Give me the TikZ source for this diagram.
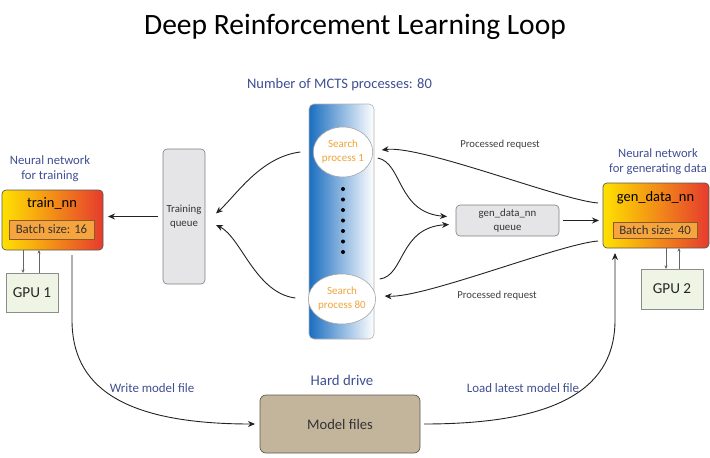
\documentclass[tikz,border=0pt]{standalone}
\usepackage{fontspec}
\setmainfont{Carlito}
\usetikzlibrary{arrows.meta,calc,shapes.geometric}
\definecolor{lblue}{HTML}{3F4E92}
\definecolor{nnyellow}{HTML}{FFE100}
\definecolor{nnorange}{HTML}{F7A21E}
\definecolor{nnred}{HTML}{E63B2E}
\definecolor{batchfill}{HTML}{F6A43E}
\definecolor{batchedge}{HTML}{8A5A2A}
\definecolor{queuefill}{HTML}{E5E5E7}
\definecolor{queueedge}{HTML}{7F7F7F}
\definecolor{gpufill}{HTML}{EEF5E5}
\definecolor{gpuedge}{HTML}{8C8C8C}
\definecolor{barblue}{HTML}{1A6EC0}
\definecolor{mffill}{HTML}{C2B59B}
\definecolor{mfedge}{HTML}{5E5A52}
\definecolor{proctext}{HTML}{EFA43A}
\definecolor{linecol}{HTML}{222222}
\tikzset{
  every node/.style={inner sep=0pt, outer sep=0pt},
  arr/.style={draw=linecol, line width=0.9pt, -{Stealth[length=7pt,width=6pt]}},
  garr/.style={draw=gray!80!black, line width=0.6pt, -{Stealth[length=3.5pt,width=3pt]}},
  queuebox/.style={draw=queueedge, fill=queuefill, rounded corners=4pt, line width=0.6pt, align=center, font=\fontsize{10.8}{13.5}\selectfont, text=black!80},
  nnbox/.style={draw=black!65, rounded corners=4pt, line width=0.7pt, left color=nnyellow, middle color=nnorange, right color=nnred},
  batchbox/.style={draw=batchedge, fill=batchfill, line width=0.6pt, font=\fontsize{12.8}{15}\selectfont, text=black!80},
  gpubox/.style={draw=gpuedge, fill=gpufill, line width=0.6pt, font=\fontsize{15.2}{17}\selectfont, text=black!85},
  proc/.style={ellipse, draw=gray!70, fill=white, line width=0.6pt, minimum width=58pt, minimum height=50pt, align=center, font=\fontsize{11}{14}\selectfont, text=proctext},
  lbl/.style={text=lblue, align=center},
  reqlbl/.style={text=black!75, font=\fontsize{10.7}{13}\selectfont},
  nntitle/.style={font=\fontsize{14.5}{16}\selectfont, text=black}
}
\begin{document}
\begin{tikzpicture}[x=1pt,y=-1pt]
\useasboundingbox (0,0) rectangle (710,458);
% title
\node (title) at (355,27) {\fontsize{29.5}{34}\selectfont Deep Reinforcement Learning Loop};
\node[lbl, font=\fontsize{14.5}{17}\selectfont] (mcts) at (339.5,85) {Number of MCTS processes: 80};
% MCTS bar
\node[draw=gray!60, rounded corners=5pt, line width=0.6pt, left color=barblue, right color=white, minimum width=65pt, minimum height=235pt] (bar) at (341.5,221.5) {};
\node[proc] (c1) at (343,152) {Search\\process 1};
\node[proc] (c80) at (342,299) {Search\\process 80};
\foreach \k in {0,...,6} { \fill (343,189+10.5*\k) circle (2pt); }
% training queue
\node[queuebox, minimum width=42pt, minimum height=135pt] (tq) at (184,216.5) {Training\\queue};
% gen_data queue
\node[queuebox, minimum width=103pt, minimum height=31pt] (gq) at (507.5,220.5) {gen\_data\_nn\\queue};
% train_nn
\node[nnbox, minimum width=101pt, minimum height=60pt] (tnn) at (52.5,220) {};
\node[nntitle] (tnnt) at (52,203) {train\_nn};
\node[batchbox, minimum width=85pt, minimum height=19pt] (tb) at (51.5,229.5) {Batch size: 16};
\node[lbl, font=\fontsize{12.7}{15}\selectfont] (tnnl) at (50,168.5) {Neural network\\for training};
\node[gpubox, minimum width=52pt, minimum height=39pt] (gpu1) at (32,292.5) {GPU 1};
% gen_data_nn
\node[nnbox, minimum width=106pt, minimum height=65pt] (gnn) at (656,215.5) {};
\node[nntitle] (gnnt) at (655.5,198) {gen\_data\_nn};
\node[batchbox, minimum width=84pt, minimum height=16pt] (gb) at (655,230) {Batch size: 40};
\node[lbl, font=\fontsize{12.6}{15}\selectfont] (gnnl) at (658,161.5) {Neural network\\for generating data};
\node[gpubox, minimum width=62pt, minimum height=40pt] (gpu2) at (672,289) {GPU 2};
% model files
\node[draw=mfedge, fill=mffill, rounded corners=6pt, line width=0.7pt, minimum width=160pt, minimum height=58pt, font=\fontsize{14.6}{17}\selectfont, text=black!80] (mf) at (340,424) {Model files};
\node[lbl, font=\fontsize{14.8}{17}\selectfont] (hd) at (342,380) {Hard drive};
\node[lbl, font=\fontsize{12.9}{15}\selectfont] (wmf) at (152,388) {Write model file};
\node[lbl, font=\fontsize{12.9}{15}\selectfont] (llm) at (523,388) {Load latest model file};
\node[reqlbl] (pr1) at (500,145) {Processed request};
\node[reqlbl] (pr2) at (497,296) {Processed request};
% connectors: processes to training queue
\draw[arr] ([xshift=-13]c1.west) .. controls +(-40,5) and +(20,-18) .. ([shift={(11,-3)}]tq.east);
\draw[arr] ([shift={(-13,-1)}]c80.west) .. controls +(-40,-5) and +(25,12) .. ([shift={(11,8.5)}]tq.east);
% processes to gen_data queue
\draw[arr] ([shift={(5,6)}]c1.east) .. controls +(25,5) and +(-50,-4) .. ([shift={(-9,-4)}]gq.west);
\draw[arr] ([shift={(4,-20)}]c80.east) .. controls +(25,-3) and +(-50,3) .. ([shift={(-7,4)}]gq.west);
% processed requests
\draw[arr] ([shift={(-5,-12.5)}]gnn.west) .. controls +(-38,-3) and +(40,-5) .. ([shift={(9,-2)}]c1.east);
\draw[arr] ([shift={(-5,25.5)}]gnn.west) .. controls +(-38,3) and +(40,2) .. ([shift={(9,-3)}]c80.east);
% queues to networks
\draw[arr] ([xshift=4]gq.east) -- ([xshift=-4]gnn.west |- gq.east);
\draw[arr] ([xshift=-5]tq.west) -- ([xshift=5]tnn.east |- tq.west);
% GPU links
\draw[garr] ([xshift=-9]gpu1.north |- tnn.south) -- ([xshift=-9]gpu1.north);
\draw[garr] ([xshift=7]gpu1.north) -- ([xshift=7]gpu1.north |- tnn.south);
\draw[garr] ([xshift=-6]gpu2.north |- gnn.south) -- ([xshift=-6]gpu2.north);
\draw[garr] ([xshift=7]gpu2.north) -- ([xshift=7]gpu2.north |- gnn.south);
% model file loop
\draw[arr] ([shift={(19.5,5)}]tnn.south) -- ++(0,65) .. controls +(0,65) and +(-135,0) .. ([xshift=-5]mf.west);
\draw[arr] ([xshift=4]mf.east) .. controls +(140,0) and +(0,65) .. ([shift={(-41,72)}]gnn.south) -- ([shift={(-41,5)}]gnn.south);
\end{tikzpicture}
\end{document}
